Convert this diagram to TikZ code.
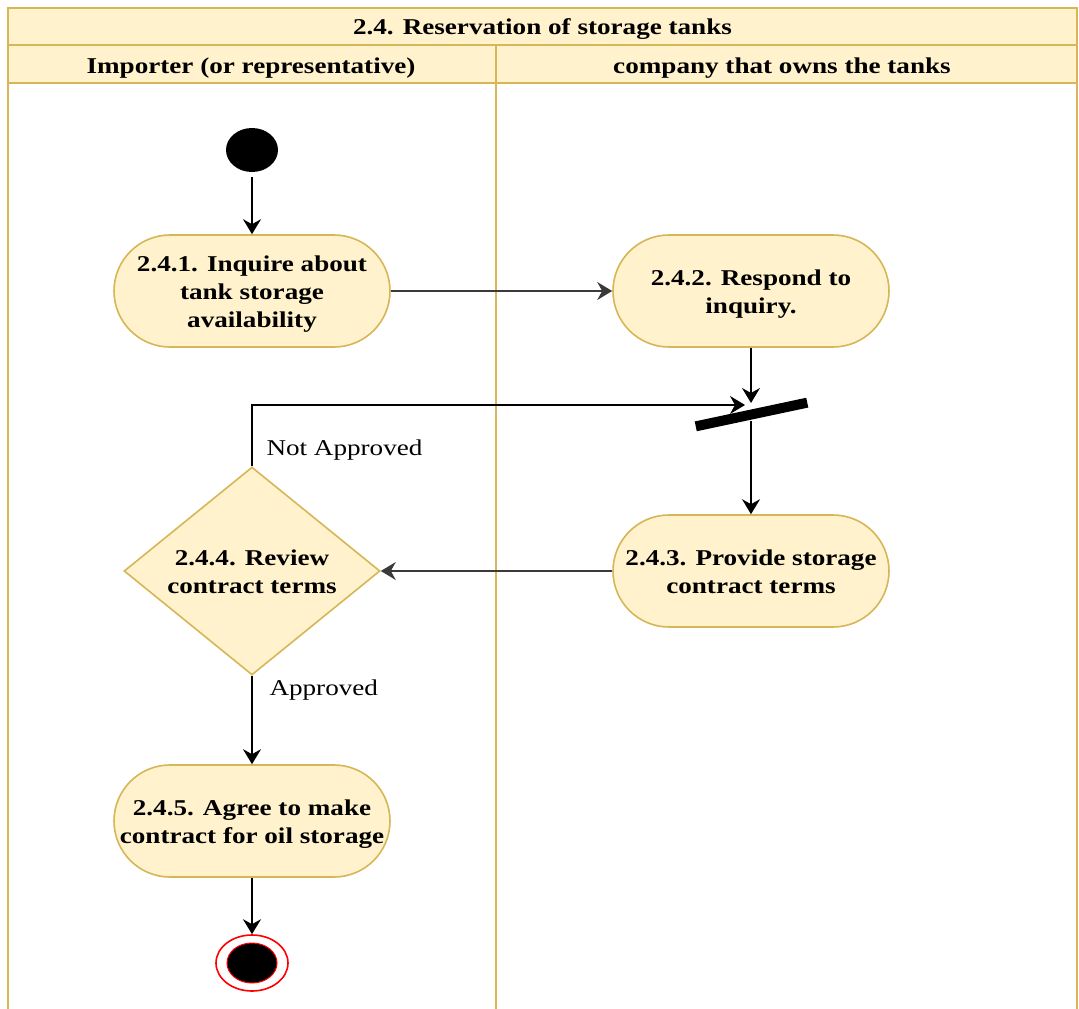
\documentclass[tikz,border=0pt]{standalone}
\usepackage{fontspec}
\setmainfont{Liberation Serif}[FakeStretch=1.2]
\usetikzlibrary{arrows.meta,shapes.geometric}
\definecolor{lanefill}{HTML}{FFF2CC}
\definecolor{laneline}{HTML}{D6B656}
\definecolor{flowgray}{HTML}{3A3A3A}
% centred multi-line text, set a little below the shape's centre
\newcommand\lowtext[1]{\raisebox{-3pt}[\height][\depth]{\begin{tabular}{@{}c@{}}#1\end{tabular}}}
\tikzset{
  boldtext/.style={font=\fontsize{22.6pt}{28pt}\selectfont\bfseries},
  plaintext/.style={font=\fontsize{22.6pt}{28pt}\selectfont},
  activity/.style={boldtext, draw=laneline, fill=lanefill, line width=1.6pt,
    rounded corners=56pt, minimum width=276pt, minimum height=112pt,
    align=center, inner sep=0pt},
  decision/.style={boldtext, diamond, draw=laneline, fill=lanefill, line width=1.6pt,
    aspect=1.23, minimum width=256pt, minimum height=208pt, align=center, inner sep=0pt},
  startstate/.style={ellipse, fill=black, minimum width=52pt, minimum height=44pt, inner sep=0pt},
  endouter/.style={ellipse, draw=red, fill=white, line width=1.6pt, minimum width=72pt, minimum height=56pt, inner sep=0pt},
  endinner/.style={ellipse, fill=black, draw=red, line width=1pt, minimum width=50pt, minimum height=40pt, inner sep=0pt},
  forkbar/.style={fill=black, minimum width=114pt, minimum height=10pt, inner sep=0pt, rotate=12},
  flow/.style={draw=black, line width=1.6pt, -{Stealth[length=15pt,width=18pt,inset=5pt]}},
  flowdim/.style={draw=flowgray, line width=1.4pt, -{Stealth[length=15pt,width=18pt,inset=5pt]}},
  laneborder/.style={draw=laneline, line width=1.8pt},
}
\begin{document}
\begin{tikzpicture}[x=1pt,y=-1pt]
  \useasboundingbox (0,0) rectangle (1079,1009);
  \clip (0,0) rectangle (1079,1009);

  % pool header bands and lane frame
  \fill[lanefill] (8,8) rectangle (1077,83);
  \draw[laneborder] (8,1030) -- (8,8) -- (1077,8) -- (1077,1030);
  \draw[laneborder] (8,45) -- (1077,45);
  \draw[laneborder] (8,83) -- (1077,83);
  \draw[laneborder] (496,45) -- (496,1030);

  \node[boldtext] (pooltitle) at (542.5,29.5) {2.4. Reservation of storage tanks};
  \node[boldtext] (laneA) at (251,68) {Importer (or representative)};
  \node[boldtext] (laneB) at (782,68) {company that owns the tanks};

  % activity nodes
  \node[startstate] (start) at (252,150) {};
  \node[activity] (n1) at (252,291) {\lowtext{2.4.1. Inquire about\\tank storage\\availability}};
  \node[activity] (n2) at (751,291) {\lowtext{2.4.2. Respond to\\inquiry.}};
  \node[forkbar] (fork) at (751.5,414.5) {};
  \coordinate (forkin) at (745,405);
  \coordinate (forktop) at (751,403);
  \coordinate (forkbot) at (751,421);
  \node[activity] (n3) at (751,571) {\lowtext{2.4.3. Provide storage\\contract terms}};
  \node[decision] (dia) at (252,571) {\lowtext{2.4.4. Review\\contract terms}};
  \node[activity] (n5) at (252,821) {\lowtext{2.4.5. Agree to make\\contract for oil storage}};
  \node[endouter] (finish) at (252,963) {};
  \node[endinner] (finishdot) at (finish.center) {};

  % connectors
  \draw[flow] (start.south) ++(0,5) -- (n1.north);
  \draw[flowdim] (n1.east) -- (n2.west);
  \draw[flow] (n2.south) -- (forktop);
  \draw[flow] (forkbot) -- (n3.north);
  \draw[flowdim] (n3.west) -- (dia.east);
  \draw[flow] (dia.north) |- (forkin);
  \draw[flow] (dia.south) -- (n5.north);
  \draw[flow] (n5.south) -- (finish.north);

  % guard labels
  \node[plaintext, anchor=west] (notok) at (263,450) {Not Approved};
  \node[plaintext, anchor=west] (ok) at (266,690.5) {Approved};
\end{tikzpicture}
\end{document}
